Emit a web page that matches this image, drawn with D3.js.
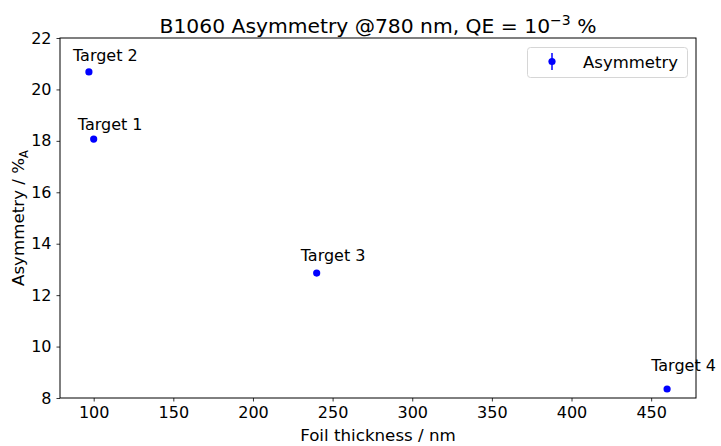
<!DOCTYPE html>
<html>
<head>
<meta charset="utf-8">
<script src="https://cdn.jsdelivr.net/npm/d3@7"></script>
<style>
  html, body { margin: 0; padding: 0; background: #fff; }
  svg { display: block; font-family: "DejaVu Sans", sans-serif; }
</style>
</head>
<body>
<svg id="chart" width="721" height="446"></svg>
<script>
// Measured asymmetry for each target foil
const targets = ["Target 1", "Target 2", "Target 3", "Target 4"];
const thickness = [100, 97, 240, 460];          // nm
const asymmetry = [18.07, 20.68, 12.86, 8.35];  // %_A
const asymError = [0.05, 0.05, 0.05, 0.05];
// annotation anchors (data units, left/baseline of the text)
const labelX = [90, 87, 230, 450];
const labelY = [18.42, 21.1, 13.34, 9.06];
const xTicks = [100, 150, 200, 250, 300, 350, 400, 450];
const yTicks = [8, 10, 12, 14, 16, 18, 20, 22];

const svg = d3.select("#chart");
const m = { left: 60, right: 25, top: 38, bottom: 48 };
const W = 721, H = 446;
const pw = W - m.left - m.right, ph = H - m.top - m.bottom;

// x limits padded 5% around the data, y limits fixed
const xmin = d3.min(thickness), xmax = d3.max(thickness), pad = (xmax - xmin) * 0.05;
const x = d3.scaleLinear().domain([xmin - pad, xmax + pad]).range([m.left, m.left + pw]);
const y = d3.scaleLinear().domain([8, 22]).range([m.top + ph, m.top]);

const g = svg.append("g");

// axes
const xAxis = g.append("g").attr("transform", `translate(0,${m.top + ph})`)
  .call(d3.axisBottom(x).tickValues(xTicks).tickSize(3.5).tickPadding(5));
const yAxis = g.append("g").attr("transform", `translate(${m.left},0)`)
  .call(d3.axisLeft(y).tickValues(yTicks).tickSize(3.5).tickPadding(5));
[xAxis, yAxis].forEach(a => {
  a.select(".domain").remove();
  a.selectAll("text").attr("font-size", 16).attr("fill", "#000")
    .attr("font-family", "DejaVu Sans, sans-serif");
  a.selectAll("line").attr("stroke", "#000").attr("stroke-width", 0.8);
});

// frame
g.append("rect").attr("x", m.left).attr("y", m.top).attr("width", pw).attr("height", ph)
  .attr("fill", "none").attr("stroke", "#000").attr("stroke-width", 1);

const data = targets.map((t, i) => ({
  t, x: thickness[i], y: asymmetry[i], e: asymError[i], lx: labelX[i], ly: labelY[i]
}));

// error bars
g.selectAll(".err").data(data).join("line")
  .attr("x1", d => x(d.x)).attr("x2", d => x(d.x))
  .attr("y1", d => y(d.y - d.e)).attr("y2", d => y(d.y + d.e))
  .attr("stroke", "#0000ff").attr("stroke-width", 1.5);

// points
g.selectAll(".pt").data(data).join("circle")
  .attr("cx", d => x(d.x)).attr("cy", d => y(d.y)).attr("r", 3.6)
  .attr("fill", "#0000ff");

// annotations
g.selectAll(".lbl").data(data).join("text")
  .attr("x", d => x(d.lx)).attr("y", d => y(d.ly))
  .attr("text-anchor", "start").attr("font-size", 16).attr("fill", "#000")
  .text(d => d.t);

// title with superscript exponent
const title = svg.append("text").attr("x", m.left + pw / 2).attr("y", 33)
  .attr("text-anchor", "middle").attr("font-size", 20.3).attr("fill", "#000");
title.append("tspan").text("B1060 Asymmetry @780 nm, QE = 10");
title.append("tspan").attr("dy", -8).attr("font-size", 14).text("\u22123");
title.append("tspan").attr("dy", 8).text(" %");

// axis labels
svg.append("text").attr("x", m.left + pw / 2).attr("y", 441)
  .attr("text-anchor", "middle").attr("font-size", 16.7).attr("fill", "#000")
  .text("Foil thickness / nm");
const yl = svg.append("text").attr("transform", `translate(24,${m.top + ph / 2}) rotate(-90)`)
  .attr("text-anchor", "middle").attr("font-size", 16.7).attr("fill", "#000");
yl.append("tspan").text("Asymmetry / %");
yl.append("tspan").attr("dy", 4).attr("font-size", 11.5).text("A");

// legend
const lg = svg.append("g");
lg.append("rect").attr("x", 527.5).attr("y", 47.5).attr("width", 160).attr("height", 30)
  .attr("rx", 3).attr("fill", "#fff").attr("fill-opacity", 0.8)
  .attr("stroke", "#d6d6d6").attr("stroke-width", 1);
lg.append("line").attr("x1", 552).attr("x2", 552).attr("y1", 53).attr("y2", 70)
  .attr("stroke", "#0000ff").attr("stroke-width", 1.5);
lg.append("circle").attr("cx", 552).attr("cy", 61.5).attr("r", 3.6).attr("fill", "#0000ff");
lg.append("text").attr("x", 583).attr("y", 67.5).attr("font-size", 16.5).attr("fill", "#000")
  .text("Asymmetry");
</script>
</body>
</html>
